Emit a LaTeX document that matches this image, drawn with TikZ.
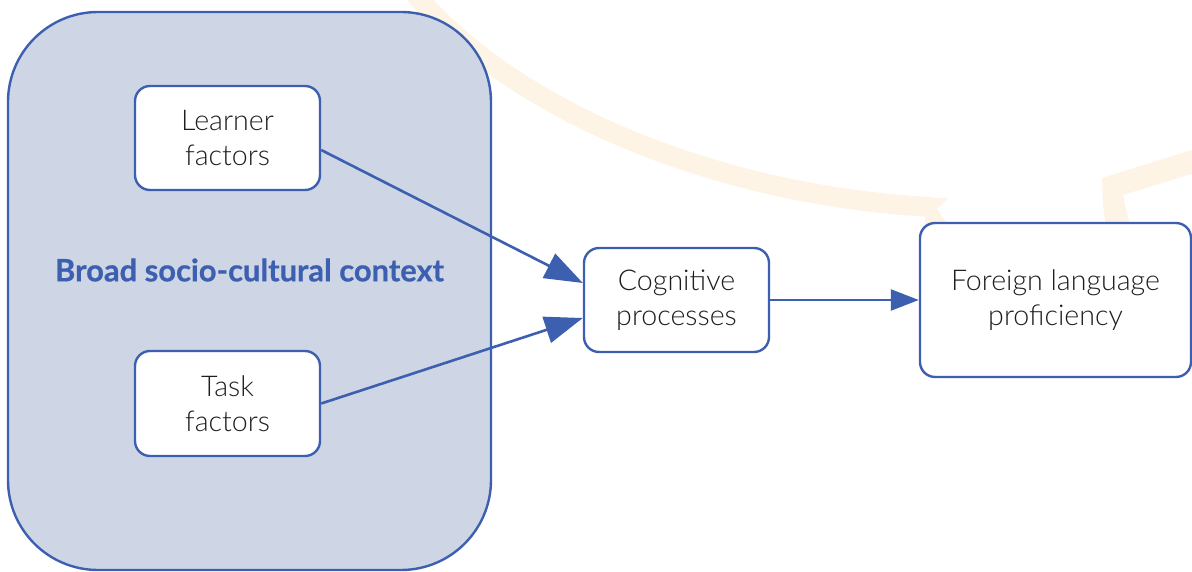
\documentclass[tikz,border=0pt]{standalone}
\usepackage{fontspec}
\setmainfont{Lato}
\IfFontExistsTF{Lato Light}{\newfontfamily\lightfont{Lato Light}}{\newfontfamily\lightfont{Lato}}
\newfontfamily\titlefont{Lato}[FakeBold=0.6]
\usetikzlibrary{arrows.meta}
\definecolor{bblue}{HTML}{3D5FB0}
\definecolor{bfill}{HTML}{CED6E5}
\definecolor{bgarc}{HTML}{FEF4E6}
\definecolor{txt}{HTML}{1E1E1E}
\tikzset{
  box/.style={draw=bblue, line width=2.4pt, fill=white, rounded corners=15pt,
    align=center, text=txt, font=\lightfont\fontsize{28.6}{35}\selectfont, inner sep=0pt},
  link/.style={draw=bblue, line width=2.6pt},
}
\begin{document}
\begin{tikzpicture}[x=1pt,y=-1pt]
\useasboundingbox (0,0) rectangle (1192,572);
% faint background arcs
\draw[bgarc, line width=20pt] (413,-8) .. controls (523,121) and (735,197) .. (932,207);
\fill[bgarc] (928,197.5) -- (948,198) -- (937,209) -- (955,235) -- (925,235) -- (925,217) -- cycle;
\fill[bgarc] (1102,178) -- (1195,149) -- (1195,173) -- (1123,195) .. controls (1126,210) .. (1133,235) -- (1108,235) .. controls (1103,210) .. cycle;
% big context box
\node[draw=bblue, line width=2.4pt, fill=bfill, rounded corners=90pt,
  minimum width=483pt, minimum height=558pt, inner sep=0pt] (ctx) at (249.5,291) {};
\node[text=bblue, font=\titlefont\bfseries\fontsize{30.9}{36}\selectfont] (ctxlabel) at (249.5,270) {Broad socio-cultural context};
% nodes
\node[box, minimum width=185pt, minimum height=104pt] (learner) at (227.5,138) {Learner\\factors};
\node[box, minimum width=185pt, minimum height=105pt] (task) at (227.5,403.5) {Task\\factors};
\node[box, minimum width=185pt, minimum height=104pt] (cog) at (676.5,300) {Cognitive\\processes};
\node[box, minimum width=271pt, minimum height=154pt] (flp) at (1055.5,300) {Foreign language\\proficiency};
% connectors
\draw[link, -{Triangle[length=38pt,width=27pt]}] ([yshift=-12pt]learner.east) -- ([yshift=17pt]cog.west);
\draw[link, -{Triangle[length=38pt,width=27pt]}] (task.east) -- ([yshift=-18pt]cog.west);
\draw[link, -{Triangle[length=28pt,width=21pt]}] (cog.east) -- (flp.west);
\end{tikzpicture}
\end{document}
